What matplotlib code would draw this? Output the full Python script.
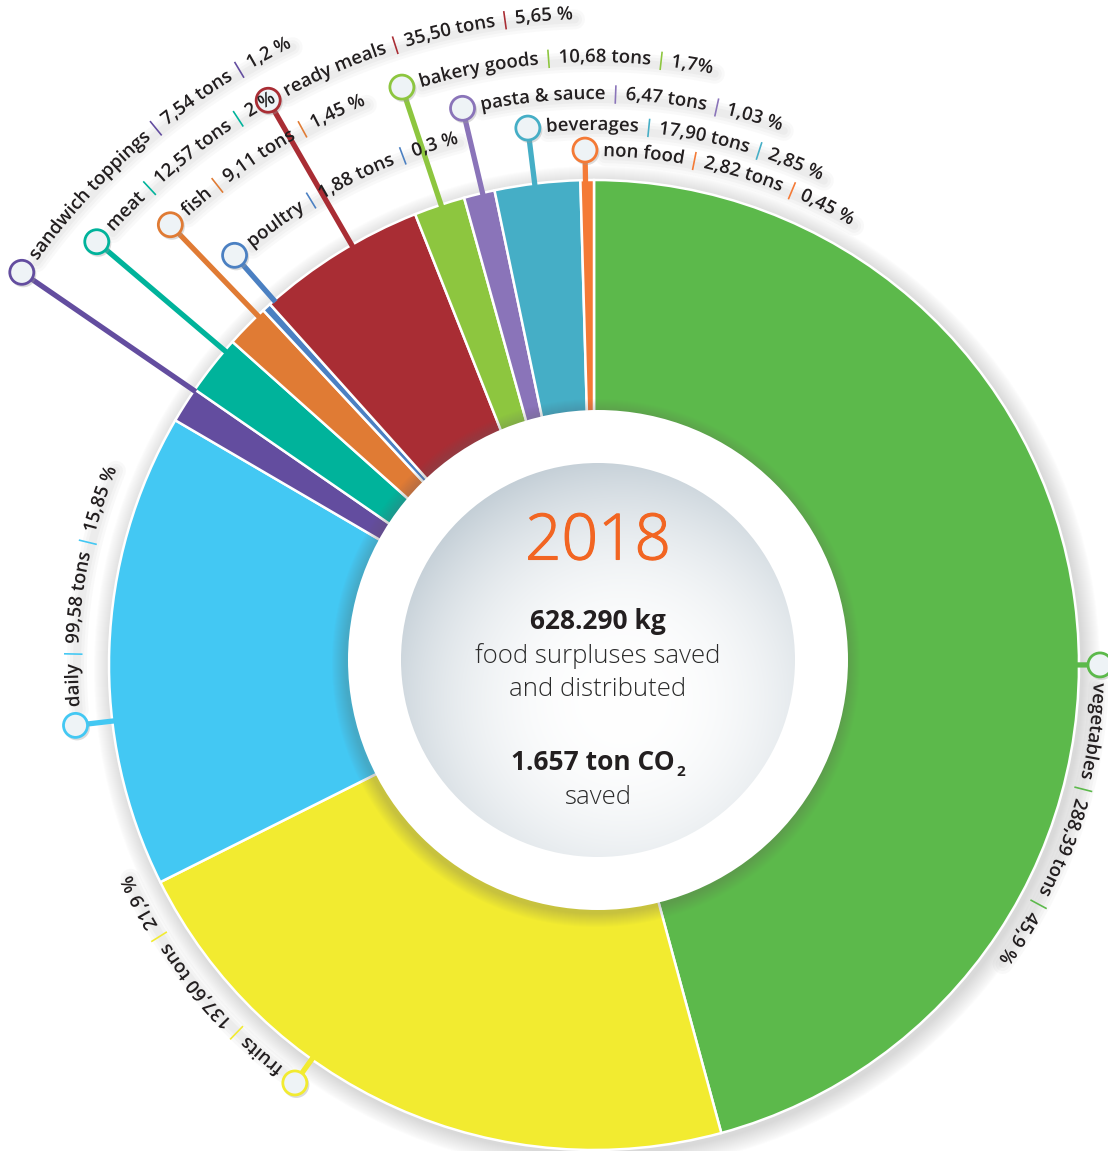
import numpy as np
import matplotlib.pyplot as plt
import matplotlib.patheffects as pe
from matplotlib.patches import Circle
from matplotlib.font_manager import FontProperties, findfont, get_font
from matplotlib.colors import to_rgb
try:
    from matplotlib.ft2font import LoadFlags
    NO_HINT = LoadFlags.NO_HINTING
except ImportError:
    from matplotlib.ft2font import LOAD_NO_HINTING as NO_HINT

categories = ["vegetables", "fruits", "daily", "sandwich toppings", "meat", "fish",
              "poultry", "ready meals", "bakery goods", "pasta & sauce", "beverages", "non food"]
tons = [288.39, 137.60, 99.58, 7.54, 12.57, 9.11, 1.88, 35.50, 10.68, 6.47, 17.90, 2.82]
pct_labels = ["45,9 %", "21,9 %", "15,85 %", "1,2 %", "2 %", "1,45 %",
              "0,3 %", "5,65 %", "1,7%", "1,03 %", "2,85 %", "0,45 %"]
colors = ["#5cb94b", "#f2eb30", "#43c8f3", "#634d9f", "#00b39b", "#e07b34",
          "#4b80c2", "#a92d34", "#8dc63f", "#8a74b9", "#45aec6", "#f47a36"]

# layout (pixels, y up)
W, H = 1108, 1151
CX, CY = 594, H - 665
R_OUT = 485
label_shift = [7.6, 11.5, -8.5, 2.0, 2.2, 1.7, 1.2, 1.8, 0.2, 0.4, -0.3, -0.2]
label_radius = [506, 514, 522, 694, 653, 611, 545, 652, 609, 572, 541, 515]
MARK_R = 12
FONT = "Open Sans"

fig = plt.figure(figsize=(W / 100, H / 100), dpi=100)
ax = fig.add_axes([0, 0, 1, 1])

# soft shadow around the ring
for k in range(18):
    ax.add_patch(Circle((CX + 3, CY - 4), R_OUT + 18 - k, color="#7a7a7a", alpha=0.014, lw=0, zorder=0))

wedges, _ = ax.pie(tons, colors=colors, startangle=90, counterclock=False,
                   radius=R_OUT, center=(CX, CY),
                   wedgeprops=dict(edgecolor="white", linewidth=1.8))
for w in wedges:
    w.set_zorder(1)

ax.set_xlim(0, W)
ax.set_ylim(0, H)
ax.set_aspect("equal")
ax.axis("off")

# center disk with shadow
DX, DY = 598, H - 660
for k in range(14):
    ax.add_patch(Circle((DX - 2, DY - 3), 250 + 14 - k, color="#6f6f6f", alpha=0.025, lw=0, zorder=2))
ax.add_patch(Circle((DX, DY), 250, color="white", lw=0, zorder=3))

R_IN = 197
n = 400
xs = np.linspace(DX - R_IN, DX + R_IN, n)
ys = np.linspace(DY - R_IN, DY + R_IN, n)
gx, gy = np.meshgrid(xs, ys)
d = np.hypot(gx - (DX + 25), gy - (DY - 40)) / R_IN
f = np.clip(d, 0, 1.25) ** 2.4 / 1.25 ** 2.4
c0 = np.array(to_rgb("#ffffff"))
c1 = np.array(to_rgb("#c3ced6"))
img = c0 + (c1 - c0) * f[..., None]
im = ax.imshow(img, extent=(DX - R_IN, DX + R_IN, DY - R_IN, DY + R_IN),
               origin="lower", zorder=4, interpolation="bilinear")
im.set_clip_path(Circle((DX, DY), R_IN, transform=ax.transData))
ax.set_xlim(0, W)
ax.set_ylim(0, H)

# center texts
dark = "#231f20"
grey = "#2b2b2b"
ax.text(DX, H - 543, "2018", ha="center", va="center", color="#f26522",
        fontsize=46, family=FONT, weight="light", zorder=6,
        path_effects=[pe.Stroke(linewidth=0.8, foreground="#f26522"), pe.Normal()])
ax.text(DX, H - 621, "628.290 kg", ha="center", va="center", color=dark,
        fontsize=19, family=FONT, weight="bold", zorder=6)
ax.text(DX, H - 656, "food surpluses saved", ha="center", va="center", color=grey,
        fontsize=18.5, family=FONT, weight="light", zorder=6)
ax.text(DX, H - 690, "and distributed", ha="center", va="center", color=grey,
        fontsize=18.5, family=FONT, weight="light", zorder=6)
ax.text(DX, H - 797, "saved", ha="center", va="center", color=grey,
        fontsize=18.5, family=FONT, weight="light", zorder=6)

fp_bold = FontProperties(family=FONT, weight="bold", size=19)
fp_sub = FontProperties(family=FONT, weight="bold", size=11)
renderer = fig.canvas.get_renderer()
t_main = ax.text(0, H - 762, "1.657 ton CO", ha="left", va="center",
                 fontproperties=fp_bold, color=dark, zorder=6)
t_sub = ax.text(0, H - 772, "2", ha="left", va="center",
                fontproperties=fp_sub, color=dark, zorder=6)
wm = t_main.get_window_extent(renderer).width
ws = t_sub.get_window_extent(renderer).width
x0 = DX - (wm + ws + 1) / 2
t_main.set_x(x0)
t_sub.set_x(x0 + wm + 1)

# curved labels (glyphs drawn as paths so rotated placement is exact)
fp_lab = FontProperties(family=FONT, weight="semibold", size=13.4)
ft = get_font(findfont(fp_lab))
ft.set_size(fp_lab.get_size_in_points(), 100)


def advances(s):
    out = []
    for ch in s:
        g = ft.load_char(ord(ch), flags=NO_HINT)
        out.append(g.linearHoriAdvance / 65536.0)
    return out


def polar(theta_deg, r):
    t = np.radians(theta_deg)
    return CX + r * np.sin(t), CY + r * np.cos(t)


for i, w in enumerate(wedges):
    mid = 90 - (w.theta1 + w.theta2) / 2
    ang = (mid + label_shift[i]) % 360
    rm = label_radius[i]
    col = colors[i]

    # leader + marker
    x1, y1 = polar(ang, R_OUT - 2)
    x2, y2 = polar(ang, rm - MARK_R)
    ax.plot([x1, x2], [y1, y2], color=col, lw=3.8, solid_capstyle="butt", zorder=7)
    mx, my = polar(ang, rm)
    ax.add_patch(Circle((mx + 1.5, my - 2), MARK_R + 1, color="#9a9a9a", alpha=0.35, lw=0, zorder=7))
    ax.add_patch(Circle((mx, my), MARK_R, facecolor="#eef3f6", edgecolor=col, lw=2.0, zorder=8))

    tons_txt = f"{tons[i]:.2f}".replace(".", ",")
    parts = [(categories[i] + " ", dark), ("|", col), (" " + tons_txt + " tons ", dark),
             ("|", col), (" " + pct_labels[i], dark)]
    full = "".join(p for p, c in parts)
    cols = []
    for p, c in parts:
        cols += [c] * len(p)

    rb = rm - 6
    th0 = ang + np.degrees((MARK_R + 6) / rb)
    adv = advances(full)
    total = sum(adv)

    # soft shadow under the label text
    tt = np.linspace(th0, th0 + np.degrees(total / rb), 60)
    for lw_, a_ in [(20, 0.03), (14, 0.035), (8, 0.04)]:
        sx, sy = polar(tt, rb + 3)
        ax.plot(sx + 2, sy - 3, color="#555555", lw=lw_ * 0.72, alpha=a_,
                solid_capstyle="round", zorder=5)

    pen = 0.0
    for j, ch in enumerate(full):
        a = adv[j]
        if ch != " ":
            thc = th0 + np.degrees((pen + a / 2) / rb)
            cx_, cy_ = polar(thc, rb)
            t = np.radians(thc)
            ox = cx_ - a / 2 * np.cos(t)
            oy = cy_ + a / 2 * np.sin(t)
            ax.text(ox, oy, ch, rotation=-thc, rotation_mode="anchor", ha="left", va="baseline",
                    fontproperties=fp_lab, color=cols[j], zorder=9,
                    path_effects=[pe.Normal()])
        pen += a

fig.savefig("out.png", dpi=100)
